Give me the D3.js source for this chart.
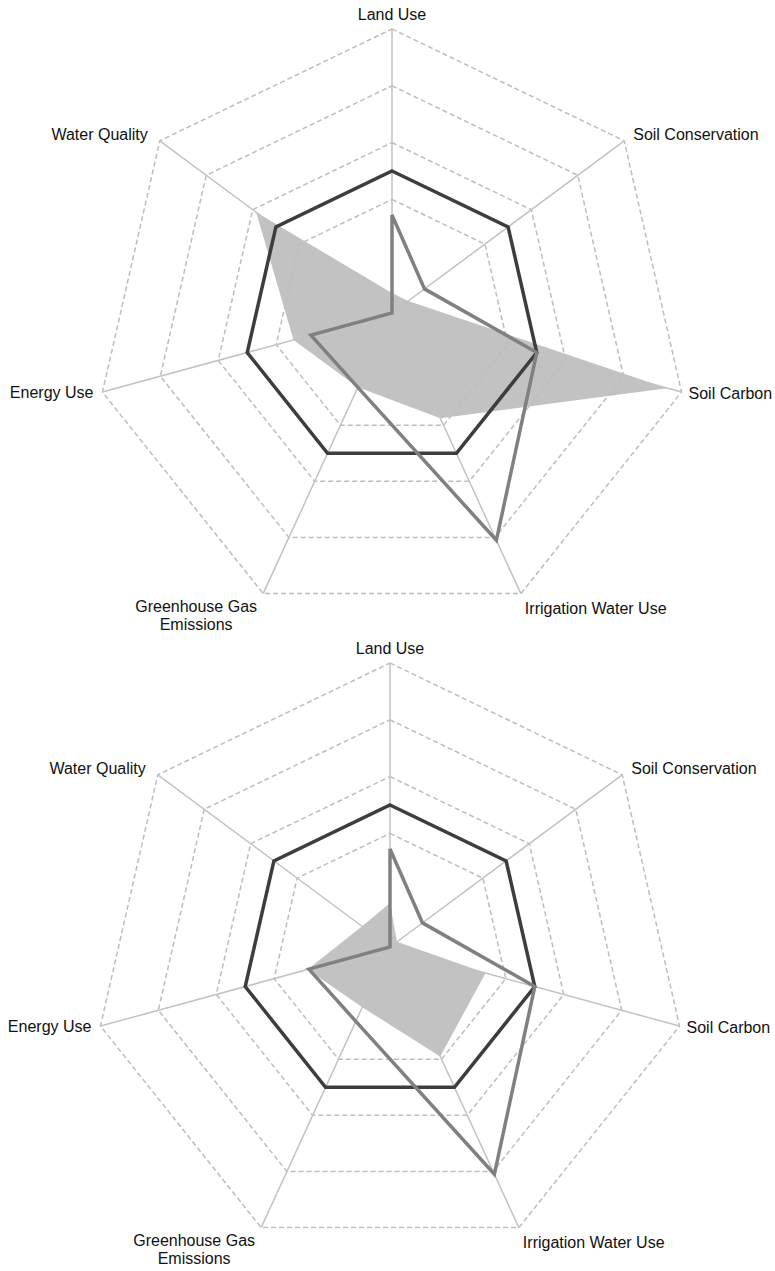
<!DOCTYPE html>
<html>
<head>
<meta charset="utf-8">
<script src="https://cdn.jsdelivr.net/npm/d3@7"></script>
<style>
  body { margin: 0; background: #fff; }
  .lbl { font-family: "Liberation Sans", Arial, sans-serif; font-size: 16px; fill: #111; }
</style>
</head>
<body>
<div id="chart"></div>
<script>
// axes of both radar charts (clockwise from top)
const axes = ["Land Use", "Soil Conservation", "Soil Carbon", "Irrigation Water Use",
              "Greenhouse Gas Emissions", "Energy Use", "Water Quality"];

// index values, baseline = 100
const baseline = [100, 100, 100, 100, 100, 100, 100];
const reference = [69, 28, 100, 162, 53, 56, 0];
const topFill = [14, 14, 190, 75, 53, 68, 117];
const bottomFill = [31, 6, 66, 78, 43, 57, 24];
const ringTicks = [80, 120, 160, 200];

const width = 775, height = 1271;
const R = 297;          // outer radius
const skew = 13;        // polygon centre sits a bit below the spoke origin

// label placement relative to the outer vertex
const labelPos = [
  {dx: 0, dy: -9, anchor: "middle"},
  {dx: 9, dy: -1, anchor: "start"},
  {dx: 7, dy: 7, anchor: "start"},
  {dx: 4, dy: 20, anchor: "start"},
  {dx: -67, dy: 18, anchor: "middle"},
  {dx: -9, dy: 6, anchor: "end"},
  {dx: -12, dy: -1, anchor: "end"}
];

const svg = d3.select("#chart")
  .append("svg")
  .attr("width", width)
  .attr("height", height);

const r = d3.scaleLinear().domain([0, 200]).range([0, 1]);
const angle = d3.scaleLinear().domain([0, axes.length]).range([0, 2 * Math.PI]);

function drawRadar(cx, cy, fillValues) {
  const g = svg.append("g");

  // outer vertices of the heptagon, relative to spoke origin
  const outer = axes.map((a, i) => {
    const t = angle(i);
    return [R * Math.sin(t), skew - R * Math.cos(t)];
  });
  const pt = (v, i) => [cx + r(v) * outer[i][0], cy + r(v) * outer[i][1]];
  const line = d3.line().curve(d3.curveLinearClosed);

  // filled series
  g.append("path")
    .attr("d", line(fillValues.map(pt)))
    .attr("fill", "#000")
    .attr("fill-opacity", 0.24)
    .attr("stroke", "none");

  // dashed rings
  g.selectAll(".ring")
    .data(ringTicks)
    .enter()
    .append("path")
    .attr("d", d => line(axes.map((a, i) => pt(d, i))))
    .attr("fill", "none")
    .attr("stroke", "#bdbdbd")
    .attr("stroke-width", 1.5)
    .attr("stroke-dasharray", "5,3");

  // spokes
  g.selectAll(".spoke")
    .data(axes)
    .enter()
    .append("line")
    .attr("x1", cx)
    .attr("y1", cy)
    .attr("x2", (d, i) => pt(200, i)[0])
    .attr("y2", (d, i) => pt(200, i)[1])
    .attr("stroke", "#c2c2c2")
    .attr("stroke-width", 1.5);

  // baseline
  g.append("path")
    .attr("d", line(baseline.map(pt)))
    .attr("fill", "none")
    .attr("stroke", "#3d3d3d")
    .attr("stroke-width", 3.5)
    .attr("stroke-linejoin", "miter");

  // reference series
  g.append("path")
    .attr("d", line(reference.map(pt)))
    .attr("fill", "none")
    .attr("stroke", "#808080")
    .attr("stroke-width", 3.5)
    .attr("stroke-linejoin", "miter");

  // axis labels
  axes.forEach((name, i) => {
    const p = pt(200, i);
    const lp = labelPos[i];
    const txt = g.append("text")
      .attr("class", "lbl")
      .attr("x", p[0] + lp.dx)
      .attr("y", p[1] + lp.dy)
      .attr("text-anchor", lp.anchor);
    if (name === "Greenhouse Gas Emissions") {
      txt.append("tspan").attr("x", p[0] + lp.dx).text("Greenhouse Gas");
      txt.append("tspan").attr("x", p[0] + lp.dx).attr("dy", 18).text("Emissions");
    } else {
      txt.text(name);
    }
  });
}

drawRadar(392, 313, topFill);
drawRadar(390, 947, bottomFill);
</script>
</body>
</html>
